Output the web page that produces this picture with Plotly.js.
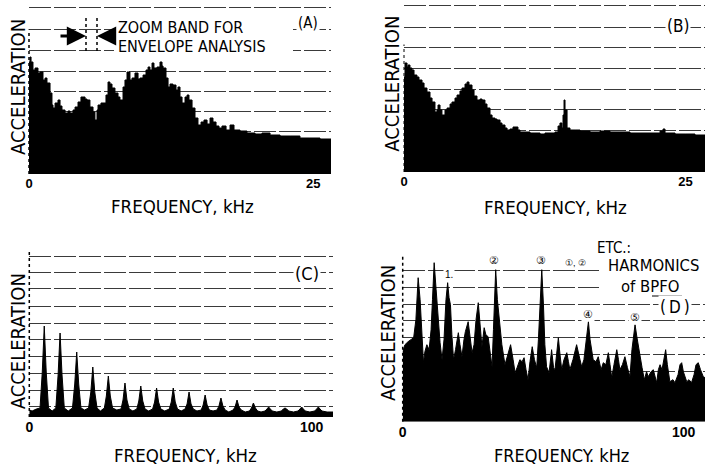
<!DOCTYPE html>
<html>
<head>
<meta charset="utf-8">
<script src="https://cdn.plot.ly/plotly-3.0.1.min.js"></script>
<style>html,body{margin:0;padding:0;background:#fff;}#chart{width:705px;height:465px;}</style>
</head>
<body>
<div id="chart"></div>
<script>
// ---------- DATA (frequency in kHz, acceleration in relative units) ----------
// Panel A: broadband spectrum 0-25 kHz
const freqA = [0.00,0.09,0.18,0.35,0.53,0.79,0.97,1.23,1.41,1.58,1.85,2.02,2.11,2.29,2.55,2.73,2.90,3.17,3.43,3.61,3.87,4.05,4.31,4.57,4.75,4.93,5.10,5.36,5.63,5.80,5.98,6.07,6.33,6.51,6.77,6.95,7.12,7.30,7.56,7.83,8.00,8.27,8.44,8.62,8.88,9.06,9.32,9.59,9.76,10.03,10.29,10.47,10.64,10.82,10.99,11.26,11.52,11.70,11.79,12.05,12.23,12.40,12.66,12.93,13.10,13.28,13.46,13.72,13.90,14.07,14.34,14.60,14.86,15.13,15.39,15.66,15.92,16.18,16.45,16.71,16.97,17.33,17.68,18.03,18.56,19.17,19.88,20.49,21.20,22.08,22.96,23.83,24.71,25.59,26.56];
const accA  = [112,117,112,104,106,101,102,94,96,91,81,69,66,71,74,68,64,61,63,61,64,67,72,77,77,75,74,67,62,54,64,69,71,71,79,92,90,86,81,77,74,87,94,102,94,96,101,95,96,99,104,107,104,111,106,107,112,108,106,96,87,90,89,84,87,77,71,77,79,74,66,56,49,52,54,50,56,52,48,46,48,44,49,44,43,41,40,41,39,38,38,36,36,35,34];

// Panel B: broadband spectrum 0-25 kHz
const freqB = [0.00,0.09,0.27,0.36,0.53,0.71,0.89,1.15,1.33,1.60,1.78,2.04,2.31,2.49,2.75,2.93,3.02,3.20,3.37,3.64,3.82,4.09,4.26,4.53,4.71,4.97,5.15,5.42,5.60,5.77,6.04,6.22,6.48,6.75,6.93,7.19,7.37,7.64,7.82,8.08,8.26,8.53,8.70,8.97,9.15,9.41,9.68,9.86,10.12,10.30,10.75,11.19,11.63,12.08,12.52,12.97,13.41,13.68,13.85,14.03,14.12,14.21,14.30,14.48,14.74,15.19,15.63,16.52,17.41,18.29,19.18,20.07,20.96,21.85,22.74,23.00,23.18,24.07,24.96,25.84,26.73];
const accB  = [95,109,105,107,104,102,97,95,92,89,84,80,74,70,60,62,67,62,57,62,64,68,70,74,77,81,84,88,90,87,82,76,72,73,72,68,64,57,54,53,52,49,47,44,42,43,45,45,42,40,40,39,39,38,39,39,40,46,49,44,57,72,62,44,42,42,41,40,41,40,40,39,39,39,41,43,39,38,38,37,36];

// Panel C: envelope spectrum 0-100 kHz
const freqC = [0,1.0,2.5,3.8,4.6,5.3,6.0,6.8,8.1,9.4,10.2,10.9,11.6,12.4,13.8,15.3,16.1,16.8,17.5,18.3,19.6,21.0,21.8,22.5,23.2,24.0,25.2,26.6,27.3,28.0,28.7,29.5,31.0,32.5,33.2,33.9,34.6,35.4,36.7,38.1,38.8,39.5,40.2,41.0,42.3,43.7,44.4,45.1,45.8,46.6,48.0,49.6,50.3,51.0,51.7,52.5,53.8,55.2,55.9,56.6,57.3,58.1,59.4,60.9,61.6,62.3,63.0,63.8,65.1,66.5,67.2,67.9,68.6,69.4,70.7,72.2,72.9,73.6,74.3,75.1,76.5,78.0,78.7,79.4,80.1,80.9,82.1,83.5,84.2,84.8,85.4,86.1,87.7,89.3,90.0,90.6,91.2,91.9,93.6,95.2,95.9,96.5,97.1,97.8,99.4,101.1,101.8,102.4,103.0,103.7,105.5,107.6];
const accC  = [7,6,8,9,45,91,45,9,6,9,42,84,42,9,6,9,33,65,33,9,7,9,25,50,25,9,6,9,21,41,21,9,7,8,17,34,17,8,6,8,16,31,16,8,6,8,15,29,15,8,6,8,15,29,15,8,6,8,13,25,13,8,6,7,12,22,12,7,6,7,11,19,11,7,5,7,10,17,10,7,5,6,9,14,9,6,5,6,8,10,8,6,5,6,8,9,8,6,5,6,8,10,8,6,5,6,8,10,8,6,5,5];

// Panel D: spectrum with BPFO harmonics 0-100 kHz
const freqD = [0.0,0.8,1.9,2.9,3.9,4.7,5.5,6.2,6.9,7.4,7.9,8.6,9.4,10.1,10.6,11.2,11.9,12.6,13.3,14.0,14.7,15.4,16.0,16.5,17.0,17.5,18.1,18.8,19.8,20.4,21.1,21.8,22.3,23.3,23.9,24.7,25.4,26.1,26.9,27.5,28.2,29.0,29.6,30.4,31.1,31.8,32.3,33.1,33.7,34.6,35.3,36.4,37.3,38.4,39.3,40.0,40.7,41.7,42.5,43.2,43.9,44.6,45.3,46.1,46.9,47.7,48.3,48.9,49.5,50.1,50.6,51.2,52.1,53.0,53.7,54.2,55.4,56.0,56.6,57.4,58.4,59.0,59.5,60.6,61.9,62.7,63.7,64.5,65.4,66.1,66.7,67.8,68.8,69.6,70.6,71.4,72.3,73.2,73.8,74.4,75.2,76.2,76.8,77.3,78.2,79.1,80.0,80.9,81.6,82.1,82.7,83.4,84.4,85.2,86.0,86.8,87.4,88.4,89.2,89.8,90.4,91.0,91.6,92.3,93.0,93.6,94.2,95.1,96.2,96.9,98.0,98.7,99.3,99.9,101.1,101.9,102.8,103.7,104.4,105.2,106.0,107.0,107.6];
const accD  = [70,77,80,82,84,102,144,122,82,59,70,77,72,92,122,159,132,102,79,62,82,122,139,124,117,87,62,72,89,77,65,82,90,100,87,69,77,102,119,97,75,94,87,85,67,55,92,152,122,92,77,57,67,77,62,49,54,62,60,64,52,42,60,75,62,54,82,122,152,117,77,55,49,72,54,52,84,67,52,62,69,60,52,62,77,67,55,62,87,100,82,62,60,65,52,59,57,69,57,44,57,72,62,52,57,65,54,45,72,87,97,84,65,54,42,50,45,50,52,44,39,52,57,52,62,72,57,40,42,39,47,57,59,50,40,42,39,47,57,59,52,45,44];

// tick labels
const ticksAB = [0, 25];
const ticksCD = [0, 100];

// ---------- LAYOUT ----------
const W = 705, H = 465;
const fx = p => p / W;
const fy = p => 1 - p / H;
const titleFont = "DejaVu Sans Condensed, Liberation Sans Narrow, Liberation Sans, Arial, sans-serif";
const smallFont = "Liberation Sans, Arial, sans-serif";
const tickFont = {family: "Liberation Sans, Arial, sans-serif", size: 13, color: "#000", weight: "bold"};

function trace(x, y, xa, ya, shape) {
  return {x: x, y: y, xaxis: xa, yaxis: ya, type: "scatter", mode: "lines",
          line: {color: "#000", width: 1, shape: shape}, fill: "tozeroy", fillcolor: "#000",
          hoverinfo: "skip"};
}
const data = [
  trace(freqA, accA, "x", "y", "hv"),
  trace(freqB, accB, "x2", "y2", "hv"),
  trace(freqC, accC, "x3", "y3", "linear"),
  trace(freqD, accD, "x4", "y4", "linear")
];

function xax(dom, range, ticks, anchor, size) {
  return {domain: dom, range: range, anchor: anchor, showgrid: false, zeroline: false, showline: false,
          tickmode: "array", tickvals: ticks, ticktext: ticks.map(String), ticks: "",
          tickfont: Object.assign({}, tickFont, {size: size}), fixedrange: true};
}
function yax(dom, range, grid, anchor) {
  return {domain: dom, range: range, anchor: anchor, showgrid: true, gridcolor: "#3a3a3a", gridwidth: 1,
          griddash: "22px,3px", tickmode: "array", tickvals: grid, showticklabels: false, ticks: "",
          zeroline: false, showline: false, fixedrange: true};
}

const ann = [];
function txt(x, y, t, size, opts, fam) {
  ann.push(Object.assign({xref: "paper", yref: "paper", x: fx(x), y: fy(y), text: t, showarrow: false,
    xanchor: "center", yanchor: "middle", font: {family: fam || titleFont, size: size, color: "#000"}}, opts || {}));
}
// Panel A
txt(17.5, 87.5, "ACCELERATION", 20, {textangle: -90});
txt(182.5, 206.3, "FREQUENCY, kHz", 18.5);
txt(117, 27.5, "ZOOM BAND FOR", 16, {xanchor: "left", borderpad: 0});
txt(117, 46.5, "ENVELOPE ANALYSIS", 16, {xanchor: "left", borderpad: 0});
txt(307.5, 23, "(A)", 15, {bgcolor: "#fff"});
// zoom band arrows
ann.push({xref: "paper", yref: "paper", x: fx(86), y: fy(36), ax: -27, ay: 0, text: "", showarrow: true,
  arrowhead: 2, arrowsize: 1.2, arrowwidth: 3.2, arrowcolor: "#000"});
ann.push({xref: "paper", yref: "paper", x: fx(97), y: fy(36), ax: 17, ay: 0, text: "", showarrow: true,
  arrowhead: 2, arrowsize: 1.2, arrowwidth: 3.2, arrowcolor: "#000"});
// Panel B
txt(391.7, 84, "ACCELERATION", 20, {textangle: -90});
txt(555, 207.5, "FREQUENCY, kHz", 18.5);
txt(678, 26, "(B)", 17, {bgcolor: "#fff"});
// Panel C
txt(18.3, 341, "ACCELERATION", 20, {textangle: -90});
txt(185, 455, "FREQUENCY, kHz", 18.5);
txt(306.5, 273.5, "(C)", 18, {bgcolor: "#fff"});
// Panel D
txt(388, 333, "ACCELERATION", 20, {textangle: -90});
txt(561, 455.5, "FREQUENCY. kHz", 18);
txt(614, 247.5, "ETC.:", 15, {bgcolor: "#fff"});
txt(575, 263, "\u2460, \u2461", 9, {bgcolor: "#fff"}, smallFont);
txt(653, 265.5, "HARMONICS", 16.5, {borderpad: 0});
txt(650, 286, "of BPFO", 16.5, {borderpad: 0});
txt(675, 307, "(\u2009D\u2009)", 17, {bgcolor: "#fff"});
txt(494.3, 260, "\u2461", 11, {bgcolor: "#fff"}, smallFont);
txt(540.7, 260, "\u2462", 11, {bgcolor: "#fff"}, smallFont);
txt(588.3, 314, "\u2463", 11, {bgcolor: "#fff"}, smallFont);
txt(635, 316.7, "\u2464", 11, {bgcolor: "#fff"}, smallFont);
txt(449.3, 274, "1.", 10, {bgcolor: "#fff"}, smallFont);

const shapes = [
  // white backing boxes behind multi-line labels (hide gridlines there)
  {type: "rect", xref: "paper", yref: "paper", x0: fx(114), x1: fx(293), y0: fy(53), y1: fy(19), fillcolor: "#fff", line: {width: 0}, layer: "above"},
  {type: "rect", xref: "paper", yref: "paper", x0: fx(599), x1: fx(705), y0: fy(294), y1: fy(257), fillcolor: "#fff", line: {width: 0}, layer: "above"},
  // zoom band markers
  {type: "line", xref: "paper", yref: "paper", x0: fx(86), x1: fx(86), y0: fy(18), y1: fy(52), line: {color: "#000", width: 1.5, dash: "dot"}},
  {type: "line", xref: "paper", yref: "paper", x0: fx(97), x1: fx(97), y0: fy(18), y1: fy(52), line: {color: "#000", width: 1.5, dash: "dot"}},
  // underline under BPFO
  {type: "line", xref: "paper", yref: "paper", x0: fx(652), x1: fx(682), y0: fy(296), y1: fy(296), line: {color: "#000", width: 1}},
  // dotted left axes
  {type: "line", xref: "x domain", yref: "y domain", x0: 0, x1: 0, y0: 0, y1: 0.85, line: {color: "#000", width: 1.5, dash: "dot"}},
  {type: "line", xref: "x2 domain", yref: "y2 domain", x0: 0, x1: 0, y0: 0, y1: 0.75, line: {color: "#000", width: 1, dash: "dot"}},
  {type: "line", xref: "x3 domain", yref: "y3 domain", x0: 0, x1: 0, y0: 0, y1: 1, line: {color: "#000", width: 1.5, dash: "dot"}},
  {type: "line", xref: "x4 domain", yref: "y4 domain", x0: 0, x1: 0, y0: 0, y1: 1, line: {color: "#000", width: 1.5, dash: "dot"}}
];

const layout = {
  width: W, height: H, margin: {l: 0, r: 0, t: 0, b: 0},
  paper_bgcolor: "#fff", plot_bgcolor: "rgba(0,0,0,0)", showlegend: false,
  xaxis:  xax([fx(29), fx(331)], [0, 26.56], ticksAB, "y", 13),
  yaxis:  yax([fy(174), fy(4)], [0, 170], [22, 43, 63, 83, 103, 124, 145, 167], "x"),
  xaxis2: xax([fx(404), 1], [0, 26.73], ticksAB, "y2", 13),
  yaxis2: yax([fy(172), fy(2)], [0, 170], [21, 42, 63, 83, 104, 125, 145, 167], "x2"),
  xaxis3: xax([fx(29.3), fx(333)], [0, 107.6], ticksCD, "y3", 14),
  yaxis3: yax([fy(417), fy(252)], [0, 165], [11, 27, 44, 61, 78, 94, 111, 129, 145, 161], "x3"),
  xaxis4: xax([fx(402.7), 1], [0, 107.6], ticksCD, "y4", 14),
  yaxis4: yax([fy(421.7), fy(254.7)], [0, 167], [17, 34, 50, 67, 84, 101, 117, 134, 151, 167], "x4"),
  annotations: ann,
  shapes: shapes
};

Plotly.newPlot("chart", data, layout, {staticPlot: true, displayModeBar: false});
</script>
</body>
</html>
